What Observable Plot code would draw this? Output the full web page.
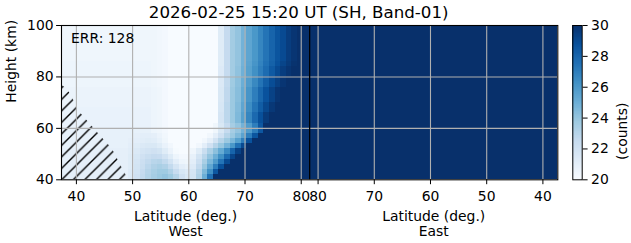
<!DOCTYPE html>
<html><head><meta charset="utf-8">
<script src="https://cdn.jsdelivr.net/npm/d3@7"></script>
<script src="https://cdn.jsdelivr.net/npm/@observablehq/plot@0.6"></script>
<style>
body{margin:0;background:#fff;}
#wrap{position:relative;width:631px;height:243px;font-family:"DejaVu Sans";}
#wrap svg{position:absolute;left:0;top:0;}
</style></head><body><div id="wrap"></div>
<script>
const title = "2026-02-25 15:20 UT (SH, Band-01)";
const errLabel = "ERR: 128";
const xLabelWest = "Latitude (deg.)\nWest";
const xLabelEast = "Latitude (deg.)\nEast";
const yLabel = "Height (km)";
const cbLabel = "(counts)";

// West-side cells: latitude centres (1 deg) and height centres (2 km)
const westLats = [37.85,38.85,39.85,40.85,41.85,42.85,43.85,44.85,45.85,46.85,47.85,48.85,49.85,50.85,51.85,52.85,53.85,54.85,55.85,56.85,57.85,58.85,59.85,60.85,61.85,62.85,63.85,64.85,65.85,66.85,67.85,68.85,69.85,70.85,71.85,72.85,73.85,74.85,75.85,76.85,77.85,78.85,79.85,80.85,81.85];
const westHeights = [41,43,45,47,49,51,53,55,57,59,61,63,65,67,69,71,73,75,77,79,81,83,85,87,89,91,93,95,97,99];
const westCounts = [
[20.9,20.9,20.9,20.9,20.9,20.9,20.9,20.9,20.9,20.9,20.9,20.9,21.3,22.0,22.6,23.1,23.5,23.8,24.0,23.7,23.0,22.0,21.5,21.8,23.2,25.0,27.5,30,30,30,30,30,30,30,30,30,30,30,30,30,30,30,30,30,30],
[20.9,20.9,20.9,20.9,20.9,20.9,20.9,20.9,20.9,20.9,20.9,20.9,21.3,21.9,22.5,23.0,23.4,23.7,23.7,23.2,22.4,21.6,21.3,21.7,23.0,24.5,26.3,28.5,30,30,30,30,30,30,30,30,30,30,30,30,30,30,30,30,30],
[20.9,20.9,20.9,20.9,20.9,20.9,20.9,20.9,20.9,20.9,20.9,20.9,21.2,21.8,22.3,22.8,23.2,23.4,23.2,22.6,21.7,21.0,20.8,21.3,22.6,23.9,25.3,27.0,28.8,30,30,30,30,30,30,30,30,30,30,30,30,30,30,30,30],
[20.9,20.9,20.9,20.9,20.9,20.9,20.9,20.9,20.9,20.9,20.9,20.9,21.2,21.7,22.2,22.6,22.9,23.0,22.6,21.9,21.0,20.5,20.4,21.0,22.2,23.4,24.6,25.8,27.4,29.0,30,30,30,30,30,30,30,30,30,30,30,30,30,30,30],
[20.9,20.9,20.9,20.9,20.9,20.9,20.9,20.9,20.9,20.9,20.9,20.9,21.2,21.6,22.0,22.3,22.5,22.4,21.9,21.2,20.5,20.2,20.2,20.8,21.8,22.9,24.0,25.0,26.3,27.8,29.2,30,30,30,30,30,30,30,30,30,30,30,30,30,30],
[20.9,20.9,20.9,20.9,20.9,20.9,20.9,20.9,20.9,20.9,20.9,20.9,21.1,21.4,21.7,21.9,22.0,21.8,21.2,20.6,20.1,20,20,20.4,21.2,22.3,23.3,24.2,25.2,26.5,28.0,29.3,30,30,30,30,30,30,30,30,30,30,30,30,30],
[20.8,20.8,20.8,20.8,20.8,20.8,20.8,20.8,20.8,20.8,20.8,20.8,21.0,21.2,21.4,21.5,21.5,21.2,20.7,20.3,20,20,20,20,20.3,21.0,22.0,23.0,23.9,24.8,26.0,27.5,29.0,30,30,30,30,30,30,30,30,30,30,30,30],
[20.8,20.8,20.8,20.8,20.8,20.8,20.8,20.8,20.8,20.8,20.8,20.8,20.9,21.0,21.1,21.2,21.1,20.8,20.4,20,20,20,20,20,20,20.3,20.9,21.9,23.0,23.8,24.6,25.6,27.0,28.7,30,30,30,30,30,30,30,30,30,30,30],
[20.8,20.8,20.8,20.8,20.8,20.8,20.8,20.8,20.8,20.8,20.8,20.8,20.8,20.9,21.0,21.0,20.9,20.6,20.3,20,20,20,20,20,20,20,20.3,21.0,22.0,23.0,23.8,24.5,25.5,27.0,28.6,30,30,30,30,30,30,30,30,30,30],
[20.8,20.8,20.8,20.8,20.8,20.8,20.8,20.8,20.8,20.8,20.8,20.8,20.8,20.8,20.8,20.8,20.5,20.4,20.2,20,20,20,20,20,20,20,20,20.4,21.5,22.5,23.5,24.0,24.8,25.8,27.0,28.5,30,30,30,30,30,30,30,30,30],
[20.7,20.7,20.7,20.7,20.7,20.7,20.7,20.7,20.7,20.7,20.7,20.7,20.7,20.7,20.7,20.7,20.5,20.4,20.2,20,20,20,20,20,20,20,20,20.4,21.5,22.5,23.5,24.0,24.8,25.8,27.0,28.5,30,30,30,30,30,30,30,30,30],
[20.7,20.7,20.7,20.7,20.7,20.7,20.7,20.7,20.7,20.7,20.7,20.7,20.7,20.7,20.7,20.7,20.5,20.4,20.2,20,20,20,20,20,20,20,20,20,21.7,22.8,23.8,24.5,25.6,26.7,27.8,28.8,29.6,30,30,30,30,30,30,30,30],
[20.7,20.7,20.7,20.7,20.7,20.7,20.7,20.7,20.7,20.7,20.7,20.7,20.7,20.7,20.7,20.7,20.5,20.4,20.2,20,20,20,20,20,20,20,20,20,21.7,22.8,23.8,24.5,25.6,26.7,27.8,28.8,29.6,30,30,30,30,30,30,30,30],
[20.7,20.7,20.7,20.7,20.7,20.7,20.7,20.7,20.7,20.7,20.7,20.7,20.7,20.7,20.7,20.7,20.5,20.4,20.2,20,20,20,20,20,20,20,20,20,21.6,22.8,23.8,24.4,25.4,26.4,27.4,28.3,29.1,29.7,30,30,30,30,30,30,30],
[20.6,20.6,20.6,20.6,20.6,20.6,20.6,20.6,20.6,20.6,20.6,20.6,20.6,20.6,20.6,20.6,20.5,20.4,20.2,20,20,20,20,20,20,20,20,20,21.6,22.8,23.8,24.4,25.4,26.4,27.4,28.3,29.1,29.7,30,30,30,30,30,30,30],
[20.6,20.6,20.6,20.6,20.6,20.6,20.6,20.6,20.6,20.6,20.6,20.6,20.6,20.6,20.6,20.6,20.5,20.4,20.2,20,20,20,20,20,20,20,20,20,21.5,22.7,23.8,24.3,25.2,26.1,27.0,27.9,28.7,29.3,29.8,30,30,30,30,30,30],
[20.6,20.6,20.6,20.6,20.6,20.6,20.6,20.6,20.6,20.6,20.6,20.6,20.6,20.6,20.6,20.6,20.5,20.4,20.2,20,20,20,20,20,20,20,20,20,21.5,22.7,23.8,24.3,25.2,26.1,27.0,27.9,28.7,29.3,29.8,30,30,30,30,30,30],
[20.6,20.6,20.6,20.6,20.6,20.6,20.6,20.6,20.6,20.6,20.6,20.6,20.6,20.6,20.6,20.6,20.5,20.4,20.2,20,20,20,20,20,20,20,20,20,21.5,22.7,23.8,24.3,25.2,26.1,27.0,27.9,28.7,29.3,29.8,30,30,30,30,30,30],
[20.5,20.5,20.5,20.5,20.5,20.5,20.5,20.5,20.5,20.5,20.5,20.5,20.5,20.5,20.5,20.5,20.4,20.3,20.2,20,20,20,20,20,20,20,20,20,21.4,22.6,23.7,24.2,25.0,25.8,26.6,27.4,28.2,28.9,29.4,29.8,30,30,30,30,30],
[20.5,20.5,20.5,20.5,20.5,20.5,20.5,20.5,20.5,20.5,20.5,20.5,20.5,20.5,20.5,20.5,20.4,20.3,20.2,20,20,20,20,20,20,20,20,20,21.4,22.6,23.7,24.2,25.0,25.8,26.6,27.4,28.2,28.9,29.4,29.8,30,30,30,30,30],
[20.5,20.5,20.5,20.5,20.5,20.5,20.5,20.5,20.5,20.5,20.5,20.5,20.5,20.5,20.5,20.5,20.4,20.3,20.2,20,20,20,20,20,20,20,20,20,21.3,22.5,23.6,24.1,24.9,25.6,26.3,27.0,27.7,28.4,29.0,29.5,29.8,30,30,30,30],
[20.5,20.5,20.5,20.5,20.5,20.5,20.5,20.5,20.5,20.5,20.5,20.5,20.5,20.5,20.5,20.5,20.4,20.3,20.2,20,20,20,20,20,20,20,20,20,21.3,22.5,23.6,24.1,24.9,25.6,26.3,27.0,27.7,28.4,29.0,29.5,29.8,30,30,30,30],
[20.5,20.5,20.5,20.5,20.5,20.5,20.5,20.5,20.5,20.5,20.5,20.5,20.5,20.5,20.5,20.5,20.4,20.3,20.2,20,20,20,20,20,20,20,20,20,21.2,22.5,23.6,24.0,24.8,25.5,26.1,26.8,27.5,28.1,28.7,29.2,29.6,29.9,30,30,30],
[20.4,20.4,20.4,20.4,20.4,20.4,20.4,20.4,20.4,20.4,20.4,20.4,20.4,20.4,20.4,20.4,20.4,20.3,20.2,20,20,20,20,20,20,20,20,20,21.2,22.5,23.6,24.0,24.8,25.4,26.0,26.7,27.4,28.0,28.6,29.0,29.5,29.8,30,30,30],
[20.4,20.4,20.4,20.4,20.4,20.4,20.4,20.4,20.4,20.4,20.4,20.4,20.4,20.4,20.4,20.4,20.4,20.3,20.2,20,20,20,20,20,20,20,20,20,21.2,22.5,23.6,24.0,24.8,25.4,26.0,26.7,27.4,28.0,28.6,29.0,29.5,29.8,30,30,30],
[20.4,20.4,20.4,20.4,20.4,20.4,20.4,20.4,20.4,20.4,20.4,20.4,20.4,20.4,20.4,20.4,20.4,20.3,20.2,20,20,20,20,20,20,20,20,20,21.2,22.5,23.6,24.0,24.8,25.4,26.0,26.7,27.4,28.0,28.6,29.0,29.5,29.8,30,30,30],
[20.4,20.4,20.4,20.4,20.4,20.4,20.4,20.4,20.4,20.4,20.4,20.4,20.4,20.4,20.4,20.4,20.4,20.3,20.2,20,20,20,20,20,20,20,20,20,21.2,22.5,23.6,24.0,24.8,25.4,26.0,26.7,27.4,28.0,28.6,29.0,29.5,29.8,30,30,30],
[20.4,20.4,20.4,20.4,20.4,20.4,20.4,20.4,20.4,20.4,20.4,20.4,20.4,20.4,20.4,20.4,20.4,20.3,20.2,20,20,20,20,20,20,20,20,20,21.2,22.5,23.6,24.0,24.8,25.4,26.0,26.7,27.4,28.0,28.6,29.0,29.5,29.8,30,30,30],
[20.4,20.4,20.4,20.4,20.4,20.4,20.4,20.4,20.4,20.4,20.4,20.4,20.4,20.4,20.4,20.4,20.4,20.3,20.2,20,20,20,20,20,20,20,20,20,21.2,22.5,23.6,24.0,24.8,25.4,26.0,26.7,27.4,28.0,28.6,29.0,29.5,29.8,30,30,30],
[20.4,20.4,20.4,20.4,20.4,20.4,20.4,20.4,20.4,20.4,20.4,20.4,20.4,20.4,20.4,20.4,20.4,20.3,20.2,20,20,20,20,20,20,20,20,20,21.2,22.5,23.6,24.0,24.8,25.4,26.0,26.7,27.4,28.0,28.6,29.0,29.5,29.8,30,30,30]
];

// East-side cells (4 deg x 10 km, saturated everywhere)
const eastLats = [39.35,43.35,47.35,51.35,55.35,59.35,63.35,67.35,71.35,75.35,79.35,83.35];
const eastHeights = [45,55,65,75,85,95];
const eastCounts = [
[30,30,30,30,30,30,30,30,30,30,30,30],
[30,30,30,30,30,30,30,30,30,30,30,30],
[30,30,30,30,30,30,30,30,30,30,30,30],
[30,30,30,30,30,30,30,30,30,30,30,30],
[30,30,30,30,30,30,30,30,30,30,30,30],
[30,30,30,30,30,30,30,30,30,30,30,30]
];

// Hatched (flagged) region boundary, west side
const hatchLat = [37.35,38.3,39.2,40.3,42.2,44.3,46.4,48.1,49.3];
const hatchTop = [77,75.3,72.5,67,62.3,57,52,44.8,40];

const westTicks = [40,50,60,70,80];
const eastTicks = [80,70,60,50,40];
const yTicks = [40,60,80,100];
const cbTicks = [20,22,24,26,28,30];

const blueStops = [20,21.25,22.5,23.75,25,26.25,27.5,28.75,30];
const blueColors = ["#f7fbff","#deebf7","#c6dbef","#9ecae1","#6baed6","#4292c6","#2171b5","#08519c","#08306b"];

westCounts.forEach((r,i)=>{ if (r.length !== westLats.length) throw new Error("row "+i+" len "+r.length); });

// ---- layout ----
const XMIN = 37.35, M = 81.5, XMAX = 2*M - XMIN;
const toU = lat => 2*M - lat; // east latitude -> continuous x
const xTickU = [...westTicks, ...eastTicks.map(toU)];
const fmt = u => String(Math.round(u <= M ? u : 2*M - u));

const westCells = westHeights.flatMap((h,i)=> westLats.map((lat,j)=>({lat,h,v:westCounts[i][j]})));
const eastCells = eastHeights.flatMap((h,i)=> eastLats.map((lat,j)=>({lat,h,v:eastCounts[i][j]})));
const hatch = hatchLat.map((lat,i)=>({lat, top: hatchTop[i]}));

const colorOpts = {type:"linear", domain: blueStops, range: blueColors, clamp: true};
const FS = 13.9;
const style = {fontFamily:"DejaVu Sans", fontSize: FS+"px", background:"transparent", overflow:"visible", color:"black"};

const main = Plot.plot({
  width: 631, height: 243,
  marginLeft: 61, marginRight: 73.7, marginTop: 25, marginBottom: 63.7,
  x: {domain: [XMIN, XMAX]},
  y: {domain: [40, 100]},
  color: colorOpts,
  style,
  marks: [
    Plot.rect(westCells, {x1: d=>d.lat-0.5, x2: d=>Math.min(d.lat+0.5, M), y1: d=>d.h-1, y2: d=>d.h+1, fill:"v", shapeRendering:"crispEdges"}),
    Plot.rect(eastCells, {x1: d=>Math.max(toU(d.lat+2), M), x2: d=>toU(d.lat-2), y1: d=>d.h-5, y2: d=>d.h+5, fill:"v", shapeRendering:"crispEdges", clip:true}),
    Plot.areaY(hatch, {x:"lat", y1: ()=>40, y2:"top", fill:"url(#hatch)", clip:true}),
    Plot.ruleX(xTickU, {stroke:"#b0b0b0", strokeWidth:1.1}),
    Plot.ruleY(yTicks.filter(t=>t>40 && t<100), {stroke:"#b0b0b0", strokeWidth:1.1}),
    Plot.ruleX([M], {stroke:"black", strokeWidth:1.3}),
    Plot.frame({stroke:"black", strokeWidth:1.1}),
    Plot.axisX(xTickU, {tickSize:4.9, tickPadding:6, tickFormat: fmt, label:null, fontSize:FS}),
    Plot.axisY(yTicks, {tickSize:4.9, tickPadding:3, label:null, fontSize:FS}),
    Plot.text([title], {frameAnchor:"top", dx:-11, dy:-7.7, lineAnchor:"bottom", fontSize:16.67}),
    Plot.text([xLabelWest], {x: ()=> (XMIN+M)/2, frameAnchor:"bottom", dy:30.2, lineAnchor:"top", lineHeight:1.1, fontSize:FS}),
    Plot.text([xLabelEast], {x: ()=> (M+XMAX)/2, frameAnchor:"bottom", dy:30.2, lineAnchor:"top", lineHeight:1.1, fontSize:FS}),
    Plot.text([yLabel], {frameAnchor:"left", dx:-46, rotate:-90, lineAnchor:"bottom", fontSize:FS}),
    Plot.text([errLabel], {frameAnchor:"top-left", dx:9.5, dy:8, lineAnchor:"top", textAnchor:"start", fontSize:FS})
  ]
});

const defs = document.createElementNS("http://www.w3.org/2000/svg","defs");
defs.innerHTML = '<pattern id="hatch" patternUnits="userSpaceOnUse" width="11.5" height="11.5"><path d="M0,11.5L11.5,0M-2,2L2,-2M9.5,13.5L13.5,9.5" stroke="#000" stroke-width="1.4" fill="none"/></pattern>';
main.prepend(defs);

const cbSteps = d3.range(20, 30, 0.05);
const cb = Plot.plot({
  width: 631, height: 243,
  marginLeft: 572.3, marginRight: 49.3, marginTop: 25, marginBottom: 63.7,
  x: {domain:[0,1], axis:null},
  y: {domain:[20,30]},
  color: colorOpts,
  style,
  marks: [
    Plot.rect(cbSteps, {x1:()=>0, x2:()=>1, y1:d=>d, y2:d=>d+0.05, fill:d=>d+0.025, shapeRendering:"crispEdges"}),
    Plot.frame({stroke:"black", strokeWidth:1}),
    Plot.axisY(cbTicks, {anchor:"right", tickSize:4.9, tickPadding:4, label:null, fontSize:FS}),
    Plot.text([cbLabel], {frameAnchor:"right", dx:40, rotate:-90, fontSize:FS})
  ]
});

const wrap = document.getElementById("wrap");
wrap.append(main, cb);
</script></body></html>
